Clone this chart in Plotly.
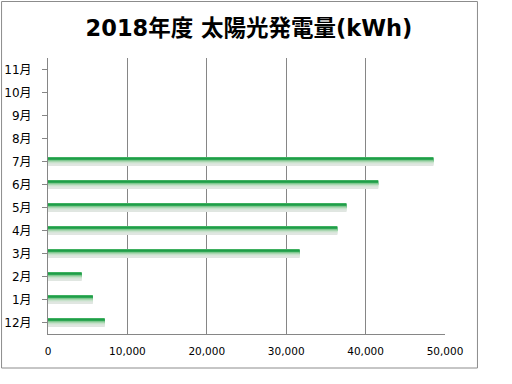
import plotly.graph_objects as go

months = ["12月", "1月", "2月", "3月", "4月", "5月", "6月", "7月", "8月", "9月", "10月", "11月"]
kwh = [7150, 5650, 4250, 31700, 36450, 37600, 41600, 48550, None, None, None, None]
x_ticks = [0, 10000, 20000, 30000, 40000, 50000]
x_labels = ["0", "10,000", "20,000", "30,000", "40,000", "50,000"]

# gradient bands, top to bottom
band_colors = ["#3fb060", "#1f9d49", "#2fa754", "#55b873", "#80c891",
               "#a8d6b0", "#c6e1ca", "#d7e5d9", "#e0e6e1"]

W, H = 512, 384
L, R, T, B = 48, 445.5, 58, 334

fig = go.Figure()
bar_w = 0.38
n = len(band_colors)
bw = bar_w / n
for i, c in enumerate(band_colors):
    off = bar_w / 2 - (i + 1) * bw
    fig.add_trace(go.Bar(
        y=list(range(len(months))), x=kwh, orientation="h",
        width=bw * 1.1, offset=off,
        marker=dict(color=c, line=dict(width=0)),
        showlegend=False, hoverinfo="skip",
    ))

def px_x(p):
    return (p - L) / (R - L)

def px_y(p):
    return (B - p) / (B - T)

fig.add_shape(type="rect", xref="paper", yref="paper",
              x0=px_x(1.5), x1=px_x(478), y0=px_y(368), y1=px_y(1.5),
              line=dict(color="#8c8c8c", width=1), fillcolor="rgba(0,0,0,0)",
              layer="above")

fig.update_layout(
    width=W, height=H,
    margin=dict(l=L, r=W - R, t=T, b=H - B, pad=0, autoexpand=False),
    paper_bgcolor="white", plot_bgcolor="white",
    barmode="overlay",
    title=dict(text="<b>2018年度 太陽光発電量(kWh)</b>",
               font=dict(family="DejaVu Sans, Noto Sans CJK JP", size=22.5, color="#000"),
               x=249 / W, xanchor="center", xref="container",
               y=1 - 28 / H, yanchor="middle", yref="container"),
    xaxis=dict(range=[0, 50000], tickvals=x_ticks, ticktext=x_labels,
               automargin=False,
               showgrid=True, gridcolor="#868686", gridwidth=1,
               showline=True, linecolor="#868686", linewidth=1,
               zeroline=False, ticks="", ticklabelstandoff=7,
               tickfont=dict(family="DejaVu Sans", size=10.5, color="#000")),
    yaxis=dict(range=[-0.5, 11.5], tickvals=list(range(len(months))), ticktext=months,
               automargin=False,
               showgrid=False, showline=True, linecolor="#868686", linewidth=1,
               ticks="outside", ticklen=5, tickcolor="#868686", tickson="boundaries",
               zeroline=False, ticklabelstandoff=8,
               tickfont=dict(family="DejaVu Sans, Noto Sans CJK JP", size=12, color="#000")),
)

fig.write_html("out.html", config={"displayModeBar": False},
               post_script="document.body.style.margin='0';")
